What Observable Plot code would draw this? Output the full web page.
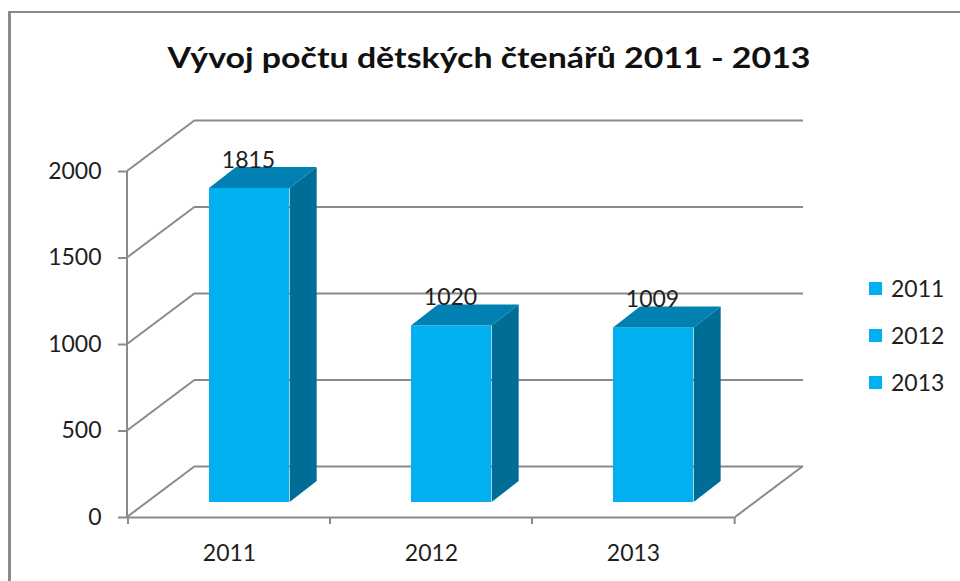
<!DOCTYPE html>
<html>
<head>
<meta charset="utf-8">
<script src="https://cdn.jsdelivr.net/npm/d3@7"></script>
<script src="https://cdn.jsdelivr.net/npm/@observablehq/plot@0.6"></script>
<style>
  html, body { margin: 0; padding: 0; background: #fff; }
  body { width: 960px; height: 581px; overflow: hidden; position: relative; font-family: Lato, "Open Sans", sans-serif; color: #1e1e1e; }
  #frame { position: absolute; left: 8px; top: 11px; width: 1000px; height: 700px; border-top: 2px solid #8a8a8a; border-left: 3px solid #8a8a8a; box-sizing: border-box; }
  #title { position: absolute; top: 41.6px; font-weight: bold; font-size: 29px; line-height: 29px; white-space: nowrap; color: #111; transform-origin: center center; }
  #chart { position: absolute; left: 0; top: 90px; }
  .leg { position: absolute; left: 869px; height: 30px; display: flex; align-items: center; font-size: 23px; color: #1e1e1e; }
  .leg .sw { width: 13px; height: 13px; margin-right: 9px; }
</style>
</head>
<body>
<div id="frame"></div>
<div id="title">Vývoj počtu dětských čtenářů 2011 - 2013</div>
<div id="chart"></div>
<div id="legend"></div>
<script>
// ---- data ----
const categories = ["2011", "2012", "2013"];
const values = [1815, 1020, 1009];
const yTicks = [0, 500, 1000, 1500, 2000];
const legendLabels = ["2011", "2012", "2013"];

// ---- style ----
const frontColor = "#00B0F0";
const topColor = "#0081B2";
const sideColor = "#006D97";
const gridColor = "#8a8a8a";
const DEPTH_X = 68, DEPTH_Y = -51;       // back-wall depth offset (px)
const BAR_DX = 20, BAR_DY = -15;          // bar front plane offset
const SIDE_DX = 27, SIDE_DY = -21;        // bar depth
const INSET = 61;

const data = categories.map((c, i) => ({year: c, value: values[i]}));

function fnScale(s, name) {
  const f = s[name];
  if (typeof f === "function") return f;
  if (s.scales && typeof s.scales[name] === "function") return s.scales[name];
  if (f && typeof f.apply === "function") return (v) => f.apply(v);
  return f;
}

// left wall diagonals, axis line, floor right edge, x ticks
function walls(index, scales, values, dim) {
  const X = fnScale(scales, "x"), Y = fnScale(scales, "y");
  const x0 = dim.marginLeft, x1 = dim.width - dim.marginRight;
  const y0 = Y(0);
  const g = d3.create("svg:g").attr("stroke", gridColor).attr("stroke-width", 2).attr("fill", "none");
  for (const t of yTicks) {
    g.append("line").attr("x1", x0).attr("y1", Y(t)).attr("x2", x0 + DEPTH_X).attr("y2", Y(t) + DEPTH_Y);
  }
  g.append("line").attr("x1", x1).attr("y1", y0).attr("x2", x1 + DEPTH_X).attr("y2", y0 + DEPTH_Y);
  g.append("line").attr("x1", x0).attr("y1", Y(d3.max(yTicks))).attr("x2", x0).attr("y2", y0);
  const step = (x1 - x0) / categories.length;
  const bounds = categories.map(c => X(c)).concat([X(categories[categories.length - 1]) + step]);
  for (const b of bounds) {
    g.append("line").attr("x1", b).attr("y1", y0).attr("x2", b).attr("y2", y0 + 7);
  }
  return g.node();
}

// bar side and top faces
function barFaces(index, scales, values, dim) {
  const X = fnScale(scales, "x"), Y = fnScale(scales, "y");
  const step = (dim.width - dim.marginLeft - dim.marginRight) / categories.length;
  const g = d3.create("svg:g");
  for (const d of data) {
    const l = X(d.year) + INSET + BAR_DX, r = X(d.year) + step - INSET + BAR_DX;
    const t = Y(d.value) + BAR_DY, b = Y(0) + BAR_DY;
    g.append("path")
      .attr("d", `M${r},${t}L${r + SIDE_DX},${t + SIDE_DY}L${r + SIDE_DX},${b + SIDE_DY}L${r},${b}Z`)
      .attr("fill", sideColor);
    g.append("path")
      .attr("d", `M${l},${t}L${r},${t}L${r + SIDE_DX},${t + SIDE_DY}L${l + SIDE_DX},${t + SIDE_DY}Z`)
      .attr("fill", topColor);
  }
  return g.node();
}

const chart = Plot.plot({
  width: 840,
  height: 491,
  marginLeft: 127,
  marginRight: 105,
  marginTop: 81,
  marginBottom: 64,
  style: {fontFamily: "Lato, 'Open Sans', sans-serif", fontSize: "23px", color: "#1e1e1e", background: "transparent", overflow: "visible"},
  x: {type: "band", domain: categories, padding: 0},
  y: {domain: [0, 2000]},
  marks: [
    Plot.ruleY(yTicks, {dx: DEPTH_X, dy: DEPTH_Y, stroke: gridColor, strokeWidth: 2}),
    Plot.ruleY([0], {stroke: gridColor, strokeWidth: 2}),
    walls,
    Plot.axisY({ticks: yTicks, tickFormat: d => String(d), tickSize: 9, tickPadding: 17, stroke: gridColor, strokeWidth: 2, fill: "#1e1e1e", label: null}),
    Plot.axisX({tickSize: 0, tickPadding: 27, fill: "#1e1e1e", label: null}),
    Plot.barY(data, {x: "year", y: "value", fill: frontColor, insetLeft: INSET, insetRight: INSET, dx: BAR_DX, dy: BAR_DY}),
    barFaces,
    Plot.text(data, {x: "year", y: "value", text: d => String(d.value), dx: 19, dy: -43, fill: "#1e1e1e"})
  ]
});
document.getElementById("chart").appendChild(chart);

// legend
const legend = document.getElementById("legend");
legendLabels.forEach((lab, i) => {
  const item = document.createElement("div");
  item.className = "leg";
  item.style.top = (288 + i * 47 - 15) + "px";
  const sw = document.createElement("span");
  sw.className = "sw";
  sw.style.background = frontColor;
  const tx = document.createElement("span");
  tx.textContent = lab;
  item.appendChild(sw);
  item.appendChild(tx);
  legend.appendChild(item);
});

// title: fit to reference width, centered
const title = document.getElementById("title");
const w = title.getBoundingClientRect().width;
title.style.left = (488.5 - w / 2) + "px";
title.style.transform = `scaleX(${643 / w})`;
</script>
</body>
</html>
